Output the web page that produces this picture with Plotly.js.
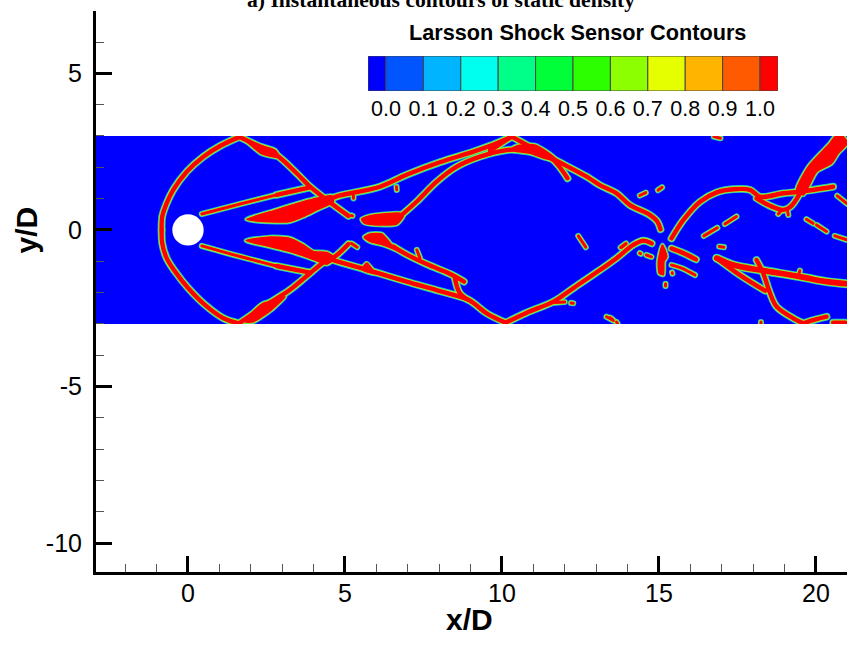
<!DOCTYPE html>
<html>
<head>
<meta charset="utf-8">
<script src="https://cdn.plot.ly/plotly-3.0.1.min.js"></script>
<style>
html,body{margin:0;padding:0;background:#fff;overflow:hidden}
.scatterlayer .js-line{stroke-linecap:round;stroke-linejoin:round}
</style>
</head>
<body>
<div id="chart" style="width:849px;height:645px"></div>
<script>
// Sampled flow field extent (x/D, y/D)
const fieldX = [-3, 21, 21, -3];
const fieldY = [-3, -3, 3, 3];

// Axis ticks
const yTickVals = [-10, -5, 0, 5];
const yTickText = ['-10', '-5', '0', '5'];
const xTickVals = [0, 5, 10, 15, 20];
const xTickText = ['0', '5', '10', '15', '20'];

// Contour legend
const legendEdges = [-0.048, 0, 0.1, 0.2, 0.3, 0.4, 0.5, 0.6, 0.7, 0.8, 0.9, 1.0, 1.048];
const legendColors = ['#0000ff','#0055ff','#00b4ff','#00ffee','#00ff88','#00ff38','#2cff00','#8cff00','#e6ff00','#ffb400','#ff5a00','#ff0000'];

// Shock sensor ridges, [x/D, y/D]
const thinShocks = [
  [[0.44,0.51],[1.66,0.83],[2.82,1.12]],
  [[0.44,-0.51],[1.66,-0.85],[2.82,-1.15]],
  [[7.29,-0.64],[7.39,-0.90]],
  [[6.64,1.38],[6.65,1.28]],
  [[5.27,1.10],[5.27,1.01]],
  [[11.70,-2.32],[12.00,-2.30]],
  [[12.20,-2.33],[12.27,-2.34]],
  [[12.43,-0.19],[12.67,-0.55]],
  [[13.81,-0.55],[13.95,-0.45]],
  [[13.45,-2.80],[13.52,-2.85]],
  [[13.65,-2.94],[13.68,-2.98]],
  [[13.33,-2.77],[13.55,-2.89]],
  [[13.78,-0.56],[13.95,-0.43]],
  [[14.39,-0.74],[14.42,-0.76]],
  [[14.60,-0.80],[14.76,-0.86]],
  [[14.39,1.10],[14.58,1.19]],
  [[14.97,1.27],[15.10,1.36]],
  [[15.42,-1.36],[15.43,-1.39]],
  [[15.21,-1.72],[15.21,-1.79]],
  [[16.75,2.98],[16.96,2.93]],
  [[20.68,1.09],[21.00,0.83]],
  [[19.70,0.34],[19.91,0.21]],
  [[20.02,0.16],[20.34,-0.05]],
  [[20.60,-0.19],[21.00,-0.32]],
  [[16.43,-0.19],[16.86,0.07]],
  [[17.10,0.19],[17.47,0.43]],
  [[16.92,-0.53],[17.07,-0.55]],
  [[18.25,-2.94],[18.25,-2.98]],
  [[19.49,-1.30],[19.46,-1.40]],
  [[18.80,0.51],[18.90,0.62]],
  [[19.12,0.48],[19.10,0.60]],
  [[5.21,0.46],[5.24,0.45]],
  [[5.21,-0.43],[5.39,-0.55]],
  [[15.40,-1.12],[15.72,-1.22],[16.15,-1.44]]
];
const midShocks = [
  [[-0.84,0.00],[-0.82,0.43],[-0.70,0.80],[-0.47,1.28],[-0.04,1.86],[0.49,2.34],[1.02,2.68],[1.66,2.98]],
  [[-0.84,0.00],[-0.82,-0.43],[-0.68,-0.90],[-0.41,-1.33],[0.01,-1.86],[0.54,-2.39],[1.13,-2.82],[1.62,-2.98]],
  [[1.66,2.96],[2.20,2.70],[2.82,2.39],[3.46,1.81],[3.89,1.38],[4.42,0.96],[5.11,0.45]],
  [[2.82,1.12],[3.89,1.36]],
  [[2.82,-1.15],[3.89,-1.36]],
  [[1.66,-2.96],[2.40,-2.45],[3.25,-1.91],[3.89,-1.38],[4.31,-1.04],[4.68,-0.85],[5.11,-0.45]],
  [[4.58,1.01],[4.84,1.10],[6.11,1.38],[6.96,1.76],[8.02,2.16],[9.09,2.50],[9.83,2.77],[10.31,2.98]],
  [[6.75,0.43],[7.28,0.90],[7.92,1.54],[8.56,2.02],[9.30,2.34],[10.15,2.55],[10.79,2.55],[11.32,2.39]],
  [[11.32,2.39],[11.64,2.23],[12.09,1.65]],
  [[10.31,2.98],[11.10,2.55],[11.74,2.21],[12.70,1.70],[13.12,1.43],[13.65,1.17],[14.07,0.80],[14.71,0.48],[14.95,0.27],[15.05,0.02]],
  [[9.62,2.53],[10.31,2.98]],
  [[9.62,2.68],[9.64,2.45]],
  [[4.42,-0.90],[4.84,-1.03],[5.90,-1.33],[6.96,-1.65],[8.02,-1.95],[8.93,-2.23],[9.51,-2.66],[10.12,-2.96]],
  [[6.54,-0.53],[6.96,-0.78],[7.60,-1.09],[8.34,-1.40],[8.79,-1.65]],
  [[8.50,-1.54],[8.66,-2.02],[8.93,-2.23]],
  [[10.12,-2.96],[10.79,-2.64],[11.64,-2.29],[12.27,-1.86],[13.12,-1.28],[13.65,-0.90],[14.18,-0.48],[14.50,-0.34],[14.77,-0.43]],
  [[15.40,-0.27],[15.78,0.32],[16.31,0.90],[16.84,1.20],[17.37,1.30],[17.90,1.28],[18.22,1.06],[18.96,1.17],[19.49,1.22],[20.55,1.38]],
  [[18.11,1.01],[18.54,0.77],[18.96,0.64],[19.19,0.74],[19.49,1.17]],
  [[15.40,-0.59],[15.78,-0.74],[16.18,-0.94]],
  [[16.84,-0.90],[17.58,-1.44],[18.38,-1.94]],
  [[18.11,-0.96],[18.32,-1.38],[18.54,-2.02],[18.75,-2.45],[19.28,-2.82],[19.60,-2.98]],
  [[19.60,-2.98],[20.02,-2.85],[20.34,-2.77]],
  [[20.55,-2.96],[20.93,-2.96]]
];
const thickShocks = [
  [[16.84,-0.90],[17.37,-1.12],[18.22,-1.28],[19.49,-1.49],[20.34,-1.65],[21.00,-1.72]]
];
const wedgePatches = [
  [[1.71,2.96],[2.29,2.71],[2.77,2.55],[2.91,2.32],[2.35,2.43],[2.03,2.68]],
  [[1.87,0.34],[2.82,0.64],[3.67,0.90],[4.10,1.01],[4.58,1.09],[4.63,0.90],[4.10,0.64],[3.67,0.43],[3.25,0.27],[2.61,0.26],[2.08,0.30]],
  [[1.85,-0.34],[2.61,-0.23],[3.25,-0.27],[3.67,-0.48],[3.99,-0.69],[4.42,-0.72],[4.68,-0.90],[4.42,-1.09],[3.89,-0.90],[3.25,-0.69],[2.61,-0.53]],
  [[1.82,-2.93],[2.19,-2.50],[2.40,-2.34],[2.82,-2.23],[3.09,-2.13],[2.66,-2.55],[2.08,-2.93]],
  [[5.53,0.34],[5.80,0.45],[6.75,0.53],[6.86,0.45],[6.65,0.19],[5.90,0.17],[5.61,0.23]],
  [[10.47,2.68],[11.05,2.71],[11.69,2.29],[11.48,2.26],[10.89,2.45],[10.26,2.55]],
  [[5.61,-0.23],[5.80,-0.13],[6.17,-0.13],[6.54,-0.53],[6.96,-0.77],[6.22,-0.48],[5.80,-0.37]],
  [[5.69,-1.06],[5.95,-1.40],[5.55,-1.26]],
  [[15.11,-0.48],[15.25,-0.85],[15.16,-1.01],[15.14,-1.43],[15.01,-1.38],[14.98,-1.01]],
  [[19.39,1.28],[19.76,2.02],[20.24,2.55],[20.45,2.77],[20.61,2.98],[20.87,2.98],[21.00,2.77],[20.71,2.45],[20.50,2.13],[20.02,1.86],[19.76,1.38],[19.60,1.12]]
];

const outerHalo = '#28c8c0', innerHalo = '#a0f020', coreRed = '#ff0000';

function unpack(paths, idx) {
  const out = [];
  paths.forEach(function (p, i) {
    if (i) out.push(null);
    p.forEach(function (q) { out.push(q[idx]); });
    if (paths === wedgePatches) out.push(p[0][idx]);
  });
  return out;
}
function strokeTrace(paths, color, width) {
  return {type:'scatter', mode:'lines', x:unpack(paths,0), y:unpack(paths,1), hoverinfo:'skip', showlegend:false,
          line:{color:color, width:width, shape:'spline', smoothing:1.0}};
}
function patchTrace(color, width, fill) {
  return {type:'scatter', mode:'lines', x:unpack(wedgePatches,0), y:unpack(wedgePatches,1), hoverinfo:'skip', showlegend:false,
          fill:fill?'toself':'none', fillcolor:color, line:{color:color, width:width, shape:'spline', smoothing:0.6}};
}

const traces = [
  {type:'scatter', mode:'lines', x:fieldX, y:fieldY, fill:'toself', fillcolor:'#0000ff', line:{color:'#0000ff', width:0}, hoverinfo:'skip', showlegend:false},
  strokeTrace(thinShocks, outerHalo, 6.2),
  strokeTrace(midShocks, outerHalo, 7.8),
  strokeTrace(thickShocks, outerHalo, 9),
  patchTrace(outerHalo, 5, false),
  strokeTrace(thinShocks, innerHalo, 4.6),
  strokeTrace(midShocks, innerHalo, 6),
  strokeTrace(thickShocks, innerHalo, 7.2),
  patchTrace(innerHalo, 3.2, false),
  strokeTrace(thinShocks, coreRed, 3),
  strokeTrace(midShocks, coreRed, 4.4),
  strokeTrace(thickShocks, coreRed, 5.6),
  patchTrace(coreRed, 1.6, true),
  {type:'bar', xaxis:'x2', yaxis:'y2', hoverinfo:'skip', showlegend:false,
   x:legendColors.map(function (c,i){return (legendEdges[i]+legendEdges[i+1])/2;}),
   y:legendColors.map(function (){return 1;}),
   width:legendColors.map(function (c,i){return legendEdges[i+1]-legendEdges[i];}),
   marker:{color:legendColors, line:{color:'#444', width:1}}}
];

const sans = '"Liberation Sans", Arial, sans-serif';
const tickFont = {family:sans, size:25, color:'#000'};
const layout = {
  width:849, height:645,
  margin:{l:96, r:2, t:11, b:73, pad:0},
  paper_bgcolor:'#fff', plot_bgcolor:'#fff',
  showlegend:false,
  title:{text:'a) Instantaneous contours of static density',
         font:{family:'"Liberation Serif", "Times New Roman", serif', size:21.6, color:'#000', weight:700},
         x:0.5195, xanchor:'center', xref:'container', y:0.989, yanchor:'bottom', yref:'container', pad:{t:0,b:0,l:0,r:0}},
  xaxis:{range:[-2.93,20.99], tickmode:'array', tickvals:xTickVals, ticktext:xTickText,
         ticks:'inside', ticklen:16, tickwidth:3, tickcolor:'#000',
         showline:true, linewidth:3, linecolor:'#000', showgrid:false, zeroline:false, tickfont:tickFont,
         ticklabelstandoff:-3,
         minor:{tick0:0, dtick:1, ticks:'inside', ticklen:8, tickwidth:1, tickcolor:'#555', showgrid:false}},
  yaxis:{range:[-10.92,6.99], tickmode:'array', tickvals:yTickVals, ticktext:yTickText,
         ticks:'inside', ticklen:16, tickwidth:3, tickcolor:'#000',
         showline:true, linewidth:3, linecolor:'#000', showgrid:false, zeroline:false, tickfont:tickFont,
         ticklabelstandoff:6,
         minor:{tick0:0, dtick:1, ticks:'inside', ticklen:8, tickwidth:1, tickcolor:'#555', showgrid:false}},
  xaxis2:{domain:[0.3622,0.9081], anchor:'y2', range:[-0.048,1.048], tick0:0, dtick:0.1, tickformat:'.1f',
          ticks:'', showline:false, showgrid:false, zeroline:false, ticklabelstandoff:3,
          tickfont:{family:sans, size:21.5, color:'#000'}},
  yaxis2:{domain:[0.8574,0.9198], anchor:'x2', range:[0,1], visible:false, fixedrange:true},
  shapes:[
    {type:'circle', xref:'x', yref:'y', x0:-0.5, x1:0.5, y0:-0.5, y1:0.5, fillcolor:'#fff', line:{width:0}, layer:'above'},
    {type:'rect', xref:'x', yref:'y', x0:-2.5, x1:21, y0:3, y1:3.3, fillcolor:'#fff', line:{width:0}, layer:'above'},
    {type:'rect', xref:'x', yref:'y', x0:-2.5, x1:21, y0:-3.3, y1:-3, fillcolor:'#fff', line:{width:0}, layer:'above'}
  ],
  annotations:[
    {text:'Larsson Shock Sensor Contours', xref:'x2', yref:'paper', x:0.513, y:0.962, yanchor:'middle', xanchor:'center',
     showarrow:false, font:{family:sans, size:21.7, color:'#000', weight:700}},
    {text:'y/D', xref:'paper', yref:'y', x:-0.0925, y:0.0, xanchor:'center', yanchor:'middle', textangle:-90,
     showarrow:false, font:{family:sans, size:30, color:'#000', weight:700}},
    {text:'x/D', xref:'x', yref:'paper', x:8.98, y:-0.0838, xanchor:'center', yanchor:'middle',
     showarrow:false, font:{family:sans, size:30, color:'#000', weight:700}}
  ]
};
Plotly.newPlot('chart', traces, layout, {displayModeBar:false, staticPlot:true});
</script>
</body>
</html>
